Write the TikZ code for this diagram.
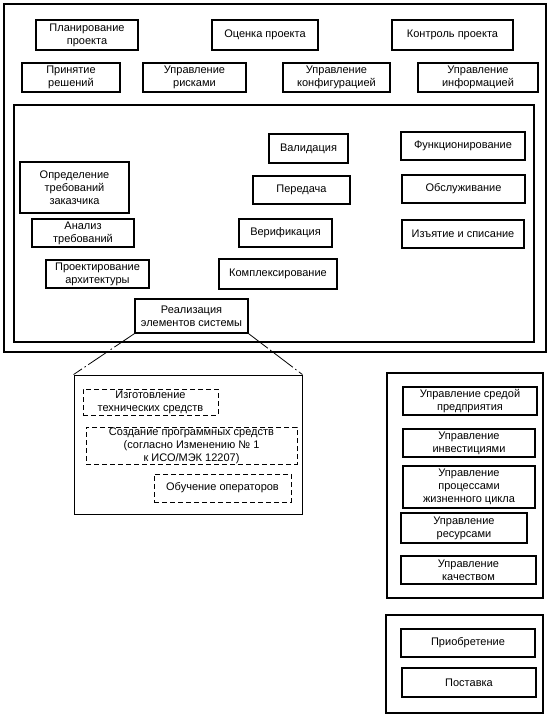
\documentclass[tikz,border=0pt]{standalone}
\usepackage{fontspec}
\setmainfont{Liberation Sans}
\usetikzlibrary{positioning}

\begin{document}
\begin{tikzpicture}[
    x=1pt, y=-1pt,
    box/.style={draw, line width=1.4pt, inner sep=0pt, align=center, font=\fontsize{11}{13}\selectfont},
    dbox/.style={box, line width=0.8pt, dash pattern=on 5pt off 3pt},
    frame/.style={draw, line width=1.8pt},
    link/.style={line width=0.8pt, dash pattern=on 24pt off 3pt on 1.5pt off 3pt}
  ]
  \useasboundingbox (0,0) rectangle (550,716);

  % outer frames
  \draw[frame, line width=2.2pt] (4,4) rectangle (546,352);
  \draw[frame] (14,105) rectangle (534,342);
  \draw[frame] (387,373) rectangle (543,598);
  \draw[frame] (386,615) rectangle (543,713);

  % project processes
  \node[box, minimum width=102pt, minimum height=30pt] (plan) at (87,35) {Планирование\\проекта};
  \node[box, minimum width=106pt, minimum height=30pt] (eval) at (265,35) {Оценка проекта};
  \node[box, minimum width=121pt, minimum height=30pt] (ctrl) at (452.5,35) {Контроль проекта};

  \node[box, minimum width=98pt, minimum height=29pt] (decide) at (71,77.5) {Принятие\\решений};
  \node[box, minimum width=103pt, minimum height=29pt] (risk) at (194.5,77.5) {Управление\\рисками};
  \node[box, minimum width=107pt, minimum height=29pt] (config) at (336.5,77.5) {Управление\\конфигурацией};
  \node[box, minimum width=120pt, minimum height=29pt] (info) at (478,77.5) {Управление\\информацией};

  % technical processes
  \node[box, minimum width=109pt, minimum height=51pt] (reqdef) at (74.5,187.5) {Определение\\требований\\заказчика};
  \node[box, minimum width=102pt, minimum height=28pt] (reqan) at (83,233) {Анализ\\требований};
  \node[box, minimum width=103pt, minimum height=28pt] (arch) at (97.5,274) {Проектирование\\архитектуры};
  \node[box, minimum width=113pt, minimum height=34pt] (impl) at (191.5,316) {Реализация\\элементов системы};

  \node[box, minimum width=79pt, minimum height=29pt] (valid) at (308.5,148.5) {Валидация};
  \node[box, minimum width=97pt, minimum height=28pt] (trans) at (301.5,190) {Передача};
  \node[box, minimum width=93pt, minimum height=28pt] (verif) at (285.5,233) {Верификация};
  \node[box, minimum width=118pt, minimum height=30pt] (integr) at (278,274) {Комплексирование};

  \node[box, minimum width=124pt, minimum height=28pt] (oper) at (463,146) {Функционирование};
  \node[box, minimum width=123pt, minimum height=28pt] (maint) at (463.5,189) {Обслуживание};
  \node[box, minimum width=122pt, minimum height=28pt] (disp) at (463,234) {Изъятие и списание};

  % implementation detail
  \node[draw, line width=0.9pt, minimum width=228pt, minimum height=139pt, inner sep=0pt] (detail) at (188,444.5) {};
  \node[dbox, minimum width=135pt, minimum height=26pt] (hw) at (150.5,402) {Изготовление\\технических средств};
  \node[dbox, minimum width=211pt, minimum height=37pt] (sw) at (191.5,445.5) {Создание программных средств\\(согласно Изменению № 1\\к ИСО/МЭК 12207)};
  \node[dbox, minimum width=137pt, minimum height=28pt] (train) at (222.5,488) {Обучение операторов};

  \draw[link] (impl.south west) -- (detail.north west);
  \draw[link] (impl.south east) -- (detail.north east);

  % organizational processes
  \node[box, minimum width=134pt, minimum height=28pt] (env) at (470,401) {Управление средой\\предприятия};
  \node[box, minimum width=132pt, minimum height=28pt] (inv) at (469,443) {Управление\\инвестициями};
  \node[box, minimum width=132pt, minimum height=42pt] (lcm) at (469,487) {Управление\\процессами\\жизненного цикла};
  \node[box, minimum width=126pt, minimum height=30pt] (res) at (464,528) {Управление\\ресурсами};
  \node[box, minimum width=135pt, minimum height=28pt] (qual) at (468.5,570) {Управление\\качеством};

  % agreement processes
  \node[box, minimum width=134pt, minimum height=28pt] (acq) at (468,643) {Приобретение};
  \node[box, minimum width=134pt, minimum height=29pt] (supply) at (469,682.5) {Поставка};
\end{tikzpicture}
\end{document}
